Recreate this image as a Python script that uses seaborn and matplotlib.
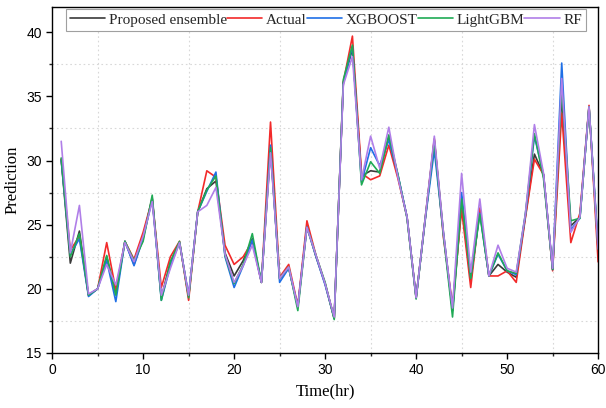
import numpy as np
import pandas as pd
import matplotlib
matplotlib.use("Agg")
import matplotlib.pyplot as plt
import seaborn as sns
from matplotlib.ticker import MultipleLocator

hours = list(range(1, 61))

actual = [30.1, 23.0, 24.1, 19.5, 20.0, 23.6, 19.9, 23.7, 22.3, 24.4,
          27.0, 20.1, 22.5, 23.7, 19.1, 26.0, 29.2, 28.7, 23.4, 21.9,
          22.5, 23.7, 20.5, 33.0, 20.9, 21.9, 18.7, 25.3, 22.6, 20.4,
          17.7, 36.1, 39.7, 29.0, 28.5, 28.8, 31.2, 28.6, 25.6, 19.3,
          25.5, 31.7, 24.0, 18.7, 26.2, 20.1, 26.3, 21.0, 21.0, 21.4,
          20.5, 25.5, 30.1, 28.9, 21.4, 33.7, 23.6, 25.9, 34.3, 22.1]

ensemble = [30.1, 22.0, 24.5, 19.5, 20.0, 22.5, 19.6, 23.7, 21.9, 24.0,
            27.1, 19.3, 22.1, 23.6, 19.4, 26.0, 27.8, 28.4, 22.8, 21.0,
            22.2, 23.9, 20.5, 30.8, 20.8, 21.6, 18.6, 24.9, 22.5, 20.4,
            17.7, 36.1, 38.7, 28.8, 29.2, 29.1, 31.9, 28.8, 25.6, 19.3,
            25.4, 31.6, 24.4, 18.3, 26.6, 20.6, 26.1, 21.0, 21.9, 21.3,
            20.9, 25.6, 30.5, 28.9, 21.5, 35.0, 24.9, 25.6, 34.2, 23.0]

xgboost = [30.0, 22.7, 23.9, 19.4, 20.0, 22.2, 19.0, 23.7, 21.8, 23.9,
           27.0, 19.1, 21.8, 23.6, 19.5, 26.0, 27.6, 29.1, 22.5, 20.1,
           21.8, 23.8, 20.5, 31.2, 20.5, 21.6, 18.6, 24.8, 22.5, 20.3,
           17.7, 36.0, 38.9, 28.3, 31.0, 29.6, 31.6, 28.9, 25.6, 19.3,
           25.4, 30.8, 24.3, 18.3, 27.5, 20.9, 25.9, 21.0, 22.7, 21.4,
           21.1, 25.7, 31.9, 28.9, 21.5, 37.6, 24.6, 25.5, 34.2, 23.4]

lightgbm = [30.2, 22.5, 24.3, 19.5, 20.0, 22.6, 19.5, 23.7, 22.2, 23.7,
            27.3, 19.1, 22.1, 23.7, 19.3, 26.0, 27.7, 28.8, 22.6, 20.4,
            21.9, 24.3, 20.5, 31.0, 20.8, 21.7, 18.3, 24.8, 22.6, 20.5,
            17.6, 36.3, 39.0, 28.1, 29.9, 29.0, 32.0, 28.9, 25.5, 19.2,
            25.5, 31.5, 24.2, 17.8, 27.0, 20.8, 25.8, 21.0, 22.8, 21.4,
            21.2, 25.8, 32.1, 28.6, 21.5, 35.7, 25.3, 25.5, 34.2, 23.1]

rf = [31.5, 22.8, 26.5, 19.6, 20.0, 21.9, 20.3, 23.6, 22.1, 24.1,
      26.8, 19.5, 21.6, 23.6, 19.5, 26.0, 26.5, 27.9, 22.7, 20.5,
      21.8, 23.4, 20.5, 30.6, 20.8, 21.7, 18.6, 24.8, 22.6, 20.4,
      17.8, 35.9, 38.1, 28.5, 31.9, 29.4, 32.6, 28.7, 25.6, 19.3,
      25.5, 31.9, 24.4, 18.5, 29.0, 21.3, 27.0, 21.0, 23.4, 21.6,
      21.3, 25.8, 32.8, 29.0, 21.6, 36.4, 24.4, 25.6, 34.2, 23.1]

series_names = ["Proposed ensemble", "Actual", "XGBOOST", "LightGBM", "RF"]
series_values = [ensemble, actual, xgboost, lightgbm, rf]
colors = {"Proposed ensemble": "#3a3a3a", "Actual": "#f22a2a",
          "XGBOOST": "#1f6fe6", "LightGBM": "#1faa55", "RF": "#b07fe8"}

frames = [pd.DataFrame({"Time": hours, "Prediction": v, "Model": n})
          for n, v in zip(series_names, series_values)]
df = pd.concat(frames, ignore_index=True)

sns.set_theme(style="ticks")
plt.rcParams["font.family"] = ["Liberation Sans", "DejaVu Sans"]

fig = plt.figure(figsize=(6.06, 4.08), dpi=100)
ax = fig.add_axes([0.086, 0.135, 0.901, 0.8488])

sns.lineplot(data=df, x="Time", y="Prediction", hue="Model",
             hue_order=series_names, palette=colors, linewidth=1.2,
             ax=ax, legend=False)

ax.set_xlim(0, 60)
ax.set_ylim(15, 42)
ax.xaxis.set_major_locator(MultipleLocator(10))
ax.xaxis.set_minor_locator(MultipleLocator(5))
ax.yaxis.set_major_locator(MultipleLocator(5))
ax.yaxis.set_minor_locator(MultipleLocator(2.5))
ax.tick_params(which="major", direction="out", length=4, width=1,
               labelsize=10, colors="black")
ax.tick_params(which="minor", direction="out", length=2.5, width=1)
ax.grid(False, which="major")
ax.grid(True, which="minor", linestyle=(0, (1.5, 2.5)), color="#d8d8d8",
        linewidth=0.8)
for sp in ax.spines.values():
    sp.set_visible(True)
    sp.set_color("black")
    sp.set_linewidth(1.0)

serif = ["Liberation Serif", "DejaVu Serif"]
ax.set_xlabel("Time(hr)", family=serif, fontsize=12, color="black")
ax.set_ylabel("Prediction", family=serif, fontsize=12, color="black")

handles = [plt.Line2D([], [], color=colors[n], linewidth=1.2) for n in series_names]
leg = ax.legend(handles, series_names, loc="upper left",
                bbox_to_anchor=(0.026, 0.9925), ncol=5, frameon=True,
                fancybox=False, edgecolor="#a0a0a0", framealpha=1,
                prop={"family": serif, "size": 11}, handlelength=2.3,
                handletextpad=0.25, columnspacing=0.0, borderpad=0.25,
                borderaxespad=0.0)
leg.get_frame().set_linewidth(0.8)

fig.savefig("out.png", dpi=100)
